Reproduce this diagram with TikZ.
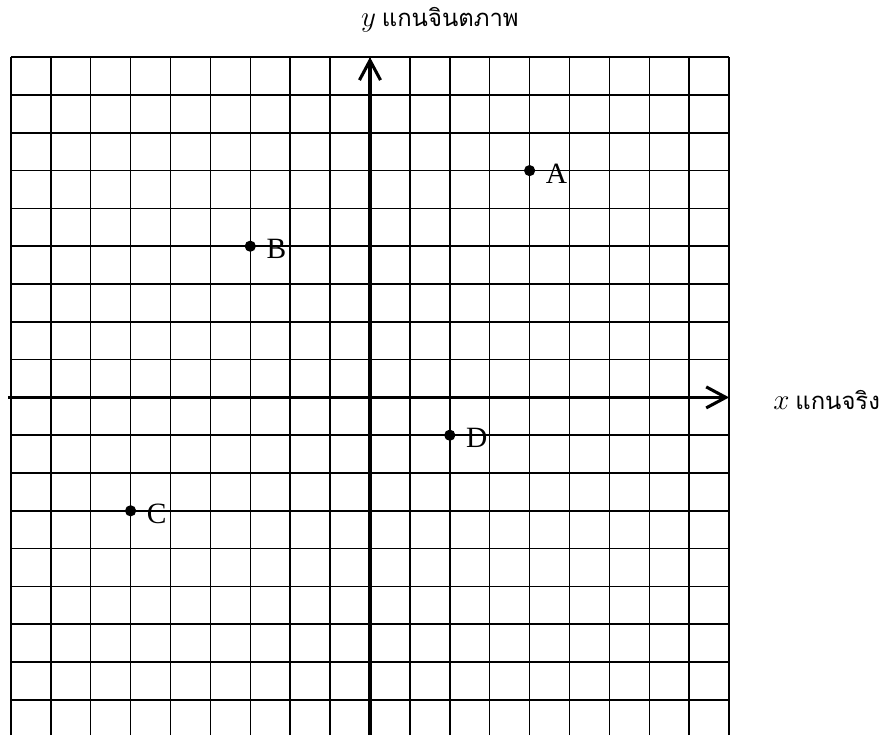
\documentclass[tikz,border=0pt]{standalone}
\usepackage{fontspec}
\setmainfont{Liberation Serif}
\newfontfamily\thaifont[Script=Thai]{Loma}
\usetikzlibrary{arrows.meta}
\begin{document}
\begin{tikzpicture}[x=1cm,y=0.9474cm]
            \tikzset{
                axis/.style={line width=2.2pt,-{Straight Barb[length=14pt,width=15pt]}},
                gridline/.style={line width=1.1pt},
                dot/.style={circle,fill,inner sep=0pt,minimum size=8pt},
                lbl/.style={anchor=west,inner sep=0pt,font=\fontsize{21}{24}\selectfont},
                axlbl/.style={inner sep=0pt,font=\fontsize{17}{22}\selectfont},}
            \def\axvar#1{{\fontsize{22}{24}\selectfont$#1$}}
            \useasboundingbox (-9.273,-8.931) rectangle (12.807,10.513);
            \foreach \i in {-9,...,9} \draw [gridline] (\i,-8.931) -- (\i,9);
            \foreach \j in {-8,...,9} \draw [gridline] (-9,\j) -- (9,\j);
            % axes
            \coordinate (xl) at (-9.07,0);
            \coordinate (xr) at (9,0);
            \coordinate (yb) at (0,-8.931);
            \coordinate (yt) at (0,9);
            \draw [axis] (xl) -- (xr);
            \draw [axis] (yb) -- (yt);
            \node [axlbl,anchor=west] (xname) at (10.1,-0.07) {\axvar{x} \thaifont แกนจริง};
            \node [axlbl] (yname) at (1.75,9.98) {\axvar{y} \thaifont แกนจินตภาพ};
            % points
            \node [dot] (A) at (4,6) {};
            \node [dot] (B) at (-3,4) {};
            \node [dot] (C) at (-6,-3) {};
            \node [dot] (D) at (2,-1) {};
            \node [lbl] (la) at ([xshift=0.4cm,yshift=-0.07cm]A.center) {A};
            \node [lbl] (lb) at ([xshift=0.4cm,yshift=-0.07cm]B.center) {B};
            \node [lbl] (lc) at ([xshift=0.4cm,yshift=-0.07cm]C.center) {C};
            \node [lbl] (ld) at ([xshift=0.4cm,yshift=-0.07cm]D.center) {D};
        \end{tikzpicture}
\end{document}
